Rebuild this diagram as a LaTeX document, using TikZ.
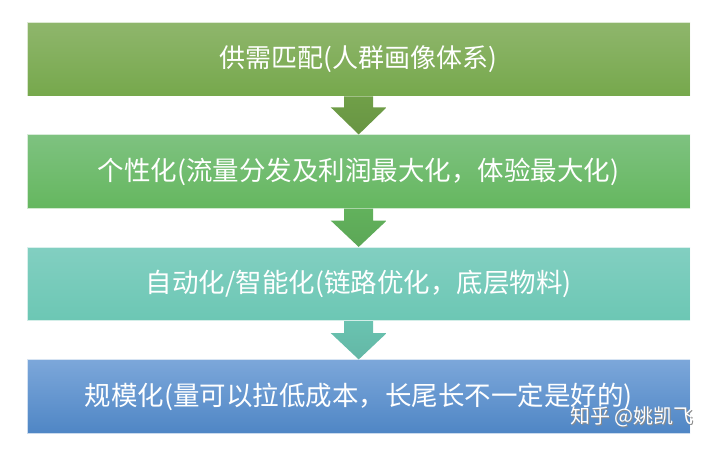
\documentclass[tikz,border=0pt]{standalone}
\usepackage{fontspec}
\newfontfamily\cjkfont{Noto Sans CJK SC}
\usetikzlibrary{calc}

\definecolor{lvTop}{RGB}{143,182,108}
\definecolor{lvBot}{RGB}{118,168,76}
\definecolor{gxTop}{RGB}{126,194,128}
\definecolor{gxBot}{RGB}{101,183,95}
\definecolor{qnTop}{RGB}{130,207,193}
\definecolor{qnBot}{RGB}{108,199,180}
\definecolor{lnTop}{RGB}{124,167,218}
\definecolor{lnBot}{RGB}{79,134,197}

\tikzset{
  stage/.style={minimum width=663pt, minimum height=73.5pt, inner sep=0pt,
    draw=white, draw opacity=0.7, line width=0.6pt, text=white,
    font=\cjkfont\fontsize{26.5}{30}\selectfont},
  wmtext/.style={inner sep=0pt, font=\cjkfont\fontsize{20}{24}\selectfont}
}

\begin{document}
\begin{tikzpicture}[x=1pt, y=-1pt]
    \useasboundingbox (0,0) rectangle (720,453);
    \node[stage, top color=lvTop, bottom color=lvBot,
      font=\cjkfont\fontsize{26}{30}\selectfont] (need) at (358.7,59.2) {供需匹配(人群画像体系)};
    \node[stage, top color=gxTop, bottom color=gxBot] (pers) at (358.7,171.5) {个性化(流量分发及利润最大化，体验最大化)};
    \node[stage, top color=qnTop, bottom color=qnBot] (auto) at (358.7,284.0) {自动化/智能化(链路优化，底层物料)};
    \node[stage, top color=lnTop, bottom color=lnBot] (scale) at (358.7,396.5) {规模化(量可以拉低成本，长尾长不一定是好的)};
    % block arrows
    \shade[top color=lvBot!95!black, bottom color=lvBot!88!black]
      ($(need.south)+(-14.5,0)$) -- ($(need.south)+(14.5,0)$) -- ($(need.south)+(14.5,11)$)
      -- ($(need.south)+(28,11)$) -- (pers.north) -- ($(need.south)+(-28,11)$)
      -- ($(need.south)+(-14.5,11)$) -- cycle;
    \shade[top color=gxBot!97!black, bottom color=gxBot!91!black]
      ($(pers.south)+(-14.5,0)$) -- ($(pers.south)+(14.5,0)$) -- ($(pers.south)+(14.5,12)$)
      -- ($(pers.south)+(28,12)$) -- (auto.north) -- ($(pers.south)+(-28,12)$)
      -- ($(pers.south)+(-14.5,12)$) -- cycle;
    \shade[top color=qnBot!98!black, bottom color=qnBot!92!black]
      ($(auto.south)+(-14.5,0)$) -- ($(auto.south)+(14.5,0)$) -- ($(auto.south)+(14.5,12)$)
      -- ($(auto.south)+(28,12)$) -- (scale.north) -- ($(auto.south)+(-28,12)$)
      -- ($(auto.south)+(-14.5,12)$) -- cycle;
    % watermark
    \node[wmtext, text=black!45] (wmshadow) at (633.2,418.2) {知乎 @姚凯飞};
    \node[wmtext, text=white] (wm) at (632,417) {知乎 @姚凯飞};
\end{tikzpicture}
\end{document}
